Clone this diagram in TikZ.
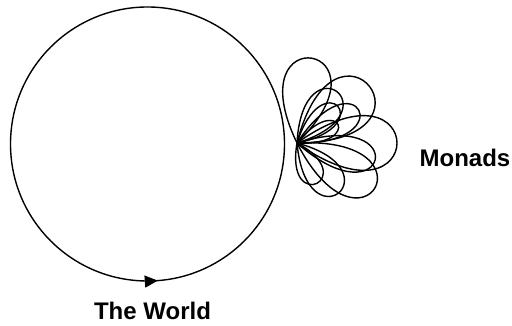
\documentclass[tikz,border=0pt]{standalone}
\usepackage{fontspec}
\setmainfont{Liberation Sans}
\usetikzlibrary{arrows.meta,decorations.markings}

\begin{document}
\begin{tikzpicture}[
        x=1pt, y=1pt,
        every node/.style={font=\bfseries\fontsize{24}{28}\selectfont, inner sep=0pt},
        world/.style={
            draw=black,
            line width=1.4pt,
            postaction={decorate},
            decoration={markings, mark=at position 0.762 with {\arrow{Triangle[length=13pt,width=12pt]}}}
        },
        petal/.style={draw=black, line width=1.4pt}
    ]
        \useasboundingbox (0,0) rectangle (512,326);

        \coordinate (centre) at (147.5,182);
        \coordinate (root) at (297,183);

        % The world
        \draw[world] (centre) circle (137);

        % Monads
        \foreach \ang/\a/\phi in {80/141.5/35.8, 38/155/37.7, 52/105.6/34.8, 42/85/30.5,
                                  28/106.7/29, 24/67.5/27.3, 0/163.6/35.4, -12/122.5/29.5,
                                  -30/142.9/32.9, -50/105.6/34.8, -64/73.9/35.7}
            \draw[petal] (root) .. controls +(\ang+\phi:\a) and +(\ang-\phi:\a) .. (root);

        % Labels
        \node[anchor=base] (monads) at (465,159) {Monads};
        \node[anchor=base] (label) at (152.5,6) {The World};
\end{tikzpicture}
\end{document}
